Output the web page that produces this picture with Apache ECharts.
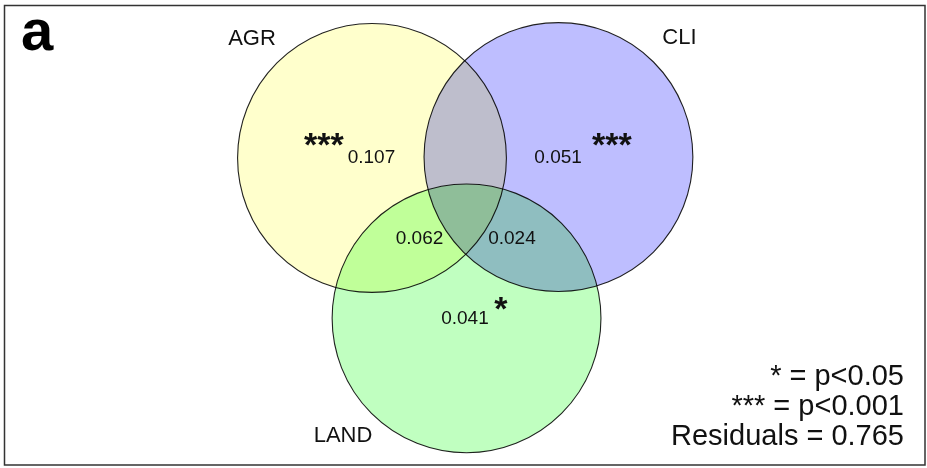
<!DOCTYPE html>
<html>
<head>
<meta charset="utf-8">
<script src="https://cdn.jsdelivr.net/npm/echarts@6/dist/echarts.min.js"></script>
<style>
  html, body { margin: 0; padding: 0; background: #fff; }
  #chart { width: 927px; height: 468px; }
</style>
</head>
<body>
<div id="chart"></div>
<script>
  // venn layout in plot units (1 unit ~ 132 px), y pointing up
  var setNames   = ['AGR', 'CLI', 'LAND'],
      setCenters = [[-0.691, 1.211], [0.717, 1.218], [0.023, 0]],
      setRadius  = [1.015, 1.015, 1.015],
      setColors  = ['#ffffcc', '#bebeff', '#c0ffc0'],
      nameSpots  = [[-1.597, 2.110], [1.631, 2.121], [-0.910, -0.888]];

  var fractions     = ['0.107', '0.051', '0.041', '0.062', '0.024'],
      fractionSpots = [[-0.695, 1.215], [0.714, 1.211], [0.011, 0.0], [-0.332, 0.603], [0.366, 0.603]];

  var stars     = ['***', '***', '*'],
      starSpots = [[-1.054, 1.294], [1.121, 1.294], [0.283, 0.056]];

  var legendLines = ['* = p<0.05', '*** = p<0.001', 'Residuals = 0.765'];

  var FONT = '"Liberation Sans", Arial, sans-serif';

  var chart = echarts.init(document.getElementById('chart'));

  function circleItem(params, api) {
    var c = api.coord([api.value(0), api.value(1)]);
    var s = api.size([api.value(2), api.value(2)]);
    return {
      type: 'circle',
      shape: {cx: c[0], cy: c[1], r: s[0]},
      style: {
        fill: setColors[params.dataIndex],
        stroke: '#222',
        lineWidth: 1.1
      }
    };
  }

  function textRender(size, weight) {
    return function(params, api) {
      var c = api.coord([api.value(0), api.value(1)]);
      return {
        type: 'text',
        x: c[0],
        y: c[1],
        style: {
          text: api.value(2),
          fontSize: size,
          fontWeight: weight,
          fontFamily: FONT,
          fill: '#111',
          align: 'center',
          verticalAlign: 'middle'
        }
      };
    };
  }

  function withText(spots, texts) {
    var out = [];
    for(var j=0; j<spots.length; j++) {
      out.push([spots[j][0], spots[j][1], texts[j]]);
    }
    return out;
  }

  var circleData = [];
  for(var j=0; j<setNames.length; j++) {
    circleData.push([setCenters[j][0], setCenters[j][1], setRadius[j]]);
  }

  var legendGraphics = [];
  for(var k=0; k<legendLines.length; k++) {
    legendGraphics.push({
      type: 'text',
      x: 904,
      y: 377 + k * 30,
      style: {
        text: legendLines[k],
        fontSize: 29,
        fontFamily: FONT,
        fill: '#111',
        align: 'right',
        verticalAlign: 'middle'
      }
    });
  }

  var option = {
    backgroundColor: '#fff',
    animation: false,
    grid: {left: 0, right: 0, top: 0, bottom: 0},
    xAxis: {type: 'value', min: -3.5, max: 3.5, show: false},
    yAxis: {type: 'value', min: -1.13, max: 2.404, show: false},
    graphic: [
      {
        type: 'rect',
        shape: {x: 4.5, y: 5.5, width: 920.5, height: 459.5},
        style: {fill: null, stroke: '#333', lineWidth: 1.5}
      },
      {
        type: 'text',
        x: 21,
        y: 34,
        style: {
          text: 'a',
          fontSize: 58,
          fontWeight: 'bold',
          fontFamily: FONT,
          fill: '#000',
          align: 'left',
          verticalAlign: 'middle'
        }
      }
    ].concat(legendGraphics),
    series: [
      {
        type: 'custom',
        renderItem: circleItem,
        data: circleData,
        blendMode: 'multiply',
        silent: true
      },
      {
        type: 'custom',
        renderItem: textRender(22, 'normal'),
        data: withText(nameSpots, setNames),
        silent: true
      },
      {
        type: 'custom',
        renderItem: textRender(19, 'normal'),
        data: withText(fractionSpots, fractions),
        silent: true
      },
      {
        type: 'custom',
        renderItem: textRender(34, 'bold'),
        data: withText(starSpots, stars),
        silent: true
      }
    ]
  };

  chart.setOption(option, true);

  window.onresize = function() {
    chart.resize();
  };
</script>
</body>
</html>
